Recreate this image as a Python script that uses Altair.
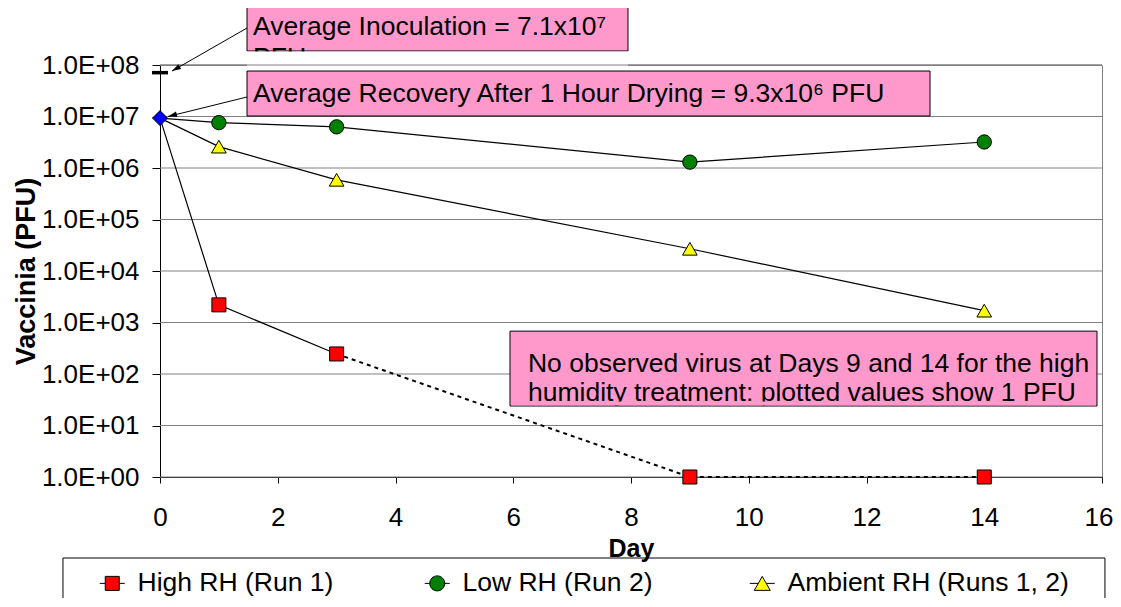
import altair as alt
import pandas as pd

FONT = "Liberation Sans"

# ---- data ----
series_names = ["High RH (Run 1)", "Low RH (Run 2)", "Ambient RH (Runs 1, 2)"]
series_colors = ["#FF0000", "#008000", "#FFFF00"]
series_shapes = ["square", "circle", "triangle-up"]

start_day = [0]
start_val = [9.3e6]          # average recovery after 1 h drying
inoc_day = [0]
inoc_val = [7.1e7]           # average inoculation

high_days = [1, 3, 9, 14]
high_vals = [2.2e3, 2.45e2, 1, 1]
low_days = [1, 3, 9, 14]
low_vals = [7.6e6, 6.3e6, 1.3e6, 3.2e6]
amb_days = [1, 3, 9, 14]
amb_vals = [2.6e6, 5.9e5, 2.7e4, 1.7e3]

x_ticks = [0, 2, 4, 6, 8, 10, 12, 14, 16]
y_ticks = [1, 10, 100, 1e3, 1e4, 1e5, 1e6, 1e7, 1e8]

# annotation boxes (data units)
box_x = [1.478, 1.478, 5.945]
box_x2 = [7.949, 13.079, 15.915]
box_y = [1.6e9, 7.64e7, 680]
box_y2 = [1.87e8, 1.023e7, 23.9]

ann_text = ["Average Inoculation = 7.1x10\u2077", "PFU",
            "Average Recovery After 1 Hour Drying = 9.3x10\u2076 PFU",
            "No observed virus at Days 9 and 14 for the high",
            "humidity treatment: plotted values show 1 PFU"]
ann_x = [1.58, 1.58, 1.58, 6.25, 6.25]
ann_y = [3.83e8, 9.57e7, 1.91e7, 109.4, 29.9]

# white mask under box 1 (text overflow), pink inner margin of box 3
cover_x = [1.478]
cover_x2 = [7.949]
cover_y = [1.83e8]
cover_y2 = [8.0e7]
inner_x = [5.965]
inner_x2 = [15.895]
inner_y = [29.2]
inner_y2 = [24.4]

arr_x = [1.478, 1.478]
arr_y = [5.22e8, 2.39e7]
arr_x2 = [0.204, 0.136]
arr_y2 = [7.64e7, 1.0e7]
arr_angle = [240, 256]

legend_box_x = [-1.648]
legend_box_x2 = [16.05]
legend_box_y = [0.02674]
legend_box_y2 = [0.00167]

# ---- tables ----
def series_rows(name, days, vals):
    return [{"day": d, "val": v, "series": name} for d, v in zip(days, vals)]

pts = pd.DataFrame(series_rows(series_names[0], high_days, high_vals)
                   + series_rows(series_names[1], low_days, low_vals)
                   + series_rows(series_names[2], amb_days, amb_vals)
                   + series_rows("Start", start_day, start_val))

solid_rows = (series_rows(series_names[0], start_day + high_days[:2], start_val + high_vals[:2])
              + series_rows(series_names[1], start_day + low_days, start_val + low_vals)
              + series_rows(series_names[2], start_day + amb_days, start_val + amb_vals))
solid = pd.DataFrame(solid_rows)
solid["order"] = list(range(len(solid)))
dashed = pd.DataFrame(series_rows(series_names[0], high_days[1:], high_vals[1:]))
dashed["order"] = list(range(len(dashed)))

grid = pd.DataFrame({"val": y_ticks})
grid_top = pd.DataFrame({"val": [y_ticks[-1]]})
boxes = pd.DataFrame({"day": box_x, "day2": box_x2, "val": box_y, "val2": box_y2})
ann = pd.DataFrame({"day": ann_x, "val": ann_y, "text": ann_text})
covers = pd.DataFrame({"day": cover_x, "day2": cover_x2, "val": cover_y, "val2": cover_y2})
inner = pd.DataFrame({"day": inner_x, "day2": inner_x2, "val": inner_y, "val2": inner_y2})
arrows = pd.DataFrame({"day": arr_x, "val": arr_y, "day2": arr_x2, "val2": arr_y2, "ang": arr_angle})
inoc = pd.DataFrame({"day": inoc_day, "val": inoc_val})
lbox = pd.DataFrame({"day": legend_box_x, "day2": legend_box_x2, "val": legend_box_y, "val2": legend_box_y2})
leg = pts[pts["series"] != "Start"]

# ---- scales / axes ----
xscale = alt.Scale(domain=[0, 16], nice=False, zero=False)
yscale = alt.Scale(type="log", domain=[1, 1e8], nice=False)

last_x = x_ticks[-1]
xaxis = alt.Axis(values=x_ticks, title="Day", grid=False, domainColor="black",
                 tickColor="black", tickSize=6, labelFont=FONT, labelFontSize=26,
                 labelColor="black", labelPadding=21, labelFlush=False, labelOverlap=False,
                 labelAlign={"condition": {"test": f"datum.value == {last_x}", "value": "right"},
                             "value": "center"},
                 labelOffset={"condition": {"test": f"datum.value == {last_x}", "value": 11},
                              "value": 0},
                 titleFont=FONT, titleFontSize=25, titleFontWeight="bold",
                 titleColor="black", titlePadding=6)
yaxis = alt.Axis(values=y_ticks, title="Vaccinia (PFU)", grid=False, domainColor="black",
                 tickColor="black", tickSize=8, labelFont=FONT, labelFontSize=26,
                 labelColor="black", labelPadding=13, labelFlush=False, labelOverlap=False,
                 labelExpr="'1.0E+0' + format(log(datum.value) / LN10, '.0f')",
                 titleFont=FONT, titleFontSize=27, titleFontWeight="bold",
                 titleColor="black", titlePadding=1)

X = lambda: alt.X("day:Q", scale=xscale, axis=xaxis)
Y = lambda: alt.Y("val:Q", scale=yscale, axis=yaxis)
X2 = lambda: alt.X2("day2:Q")
Y2 = lambda: alt.Y2("val2:Q")

grid_layer = alt.Chart(grid).mark_rule(color="#808080", strokeWidth=1).encode(y=Y())
box_layer = alt.Chart(boxes).mark_rect(fill="#FF99CC", stroke="black", strokeWidth=1).encode(
    x=X(), x2=X2(), y=Y(), y2=Y2())
ann_layer = alt.Chart(ann).mark_text(align="left", baseline="alphabetic", font=FONT,
                                     fontSize=26.5, color="black").encode(
    x=X(), y=Y(), text="text:N")
cover_layer = alt.Chart(covers).mark_rect(fill="white").encode(x=X(), x2=X2(), y=Y(), y2=Y2())
inner_layer = alt.Chart(inner).mark_rect(fill="#FF99CC").encode(x=X(), x2=X2(), y=Y(), y2=Y2())
grid_top_layer = alt.Chart(grid_top).mark_rule(color="#808080", strokeWidth=1).encode(y=Y())
lbox_layer = alt.Chart(lbox).mark_rect(fill="white", fillOpacity=0, stroke="black",
                                       strokeWidth=1).encode(x=X(), x2=X2(), y=Y(), y2=Y2())
arrow_layer = alt.Chart(arrows).mark_rule(color="black", strokeWidth=1).encode(
    x=X(), y=Y(), x2=X2(), y2=Y2())
head_layer = alt.Chart(arrows).mark_point(shape="M0,0L0.5,1.6L-0.5,1.6Z", filled=True,
                                          fill="black", opacity=1, size=125).encode(
    x=alt.X("day2:Q", scale=xscale, axis=xaxis), y=alt.Y("val2:Q", scale=yscale, axis=yaxis),
    angle=alt.Angle("ang:Q", scale=None))
solid_layer = alt.Chart(solid).mark_line(color="black", strokeWidth=1.2).encode(
    x=X(), y=Y(), detail="series:N", order="order:Q")
dashed_layer = alt.Chart(dashed).mark_line(color="black", strokeWidth=2, strokeDash=[4, 4]).encode(
    x=X(), y=Y(), order="order:Q")
inoc_layer = alt.Chart(inoc).mark_point(shape="stroke", size=256, stroke="black",
                                        strokeWidth=3.5, opacity=1).encode(x=X(), y=Y())
point_layer = alt.Chart(pts).mark_point(filled=True, stroke="black", strokeWidth=1, opacity=1).encode(
    x=X(), y=Y(),
    fill=alt.Fill("series:N", scale=alt.Scale(domain=series_names + ["Start"],
                                              range=series_colors + ["#0000FF"]), legend=None),
    shape=alt.Shape("series:N", scale=alt.Scale(domain=series_names + ["Start"],
                                                range=series_shapes + ["diamond"]), legend=None),
    size=alt.Size("series:N", scale=alt.Scale(domain=series_names + ["Start"],
                                              range=[196, 225, 256, 169]), legend=None))

legend_paths = [
    "M-1,0H-0.56M0.56,0H1M-0.56,-0.56H0.56V0.56H-0.56Z",
    "M-1,0H-0.6M0.6,0H1M0.6,0A0.6,0.6,0,1,1,-0.6,0A0.6,0.6,0,1,1,0.6,0Z",
    "M-1,0H-0.32M0.32,0H1M0,-0.56L0.64,0.56L-0.64,0.56Z",
]
legend_def = alt.Legend(title=None, orient="none", legendX=-61, legendY=505,
                        direction="horizontal", labelFont=FONT, labelFontSize=26.5,
                        labelColor="black", labelLimit=500, symbolSize=625,
                        symbolStrokeWidth=1, symbolOpacity=1,
                        labelOffset=12, columnPadding=3, gridAlign="all", padding=0)
legend_layer = alt.Chart(leg).mark_point(filled=True, opacity=0).encode(
    x=X(), y=Y(),
    fill=alt.Fill("series:N", scale=alt.Scale(domain=series_names, range=series_colors),
                  legend=legend_def),
    stroke=alt.Stroke("series:N", scale=alt.Scale(domain=series_names,
                                                  range=["black", "black", "black"]),
                      legend=legend_def),
    shape=alt.Shape("series:N", scale=alt.Scale(domain=series_names, range=legend_paths),
                    legend=legend_def))

chart = alt.layer(
    grid_layer, box_layer, ann_layer, cover_layer, inner_layer, grid_top_layer, lbox_layer,
    arrow_layer, head_layer, solid_layer, dashed_layer, inoc_layer, point_layer, legend_layer
).resolve_scale(fill="independent", shape="independent", stroke="independent").properties(
    width=942, height=412,
    padding={"left": 152, "top": 57, "right": 11, "bottom": 121},
    autosize=alt.AutoSizeParams(type="none"),
    background="white",
).configure_view(stroke="#808080", strokeWidth=1)

chart.save("out.html", embed_options={"renderer": "svg", "actions": False})
